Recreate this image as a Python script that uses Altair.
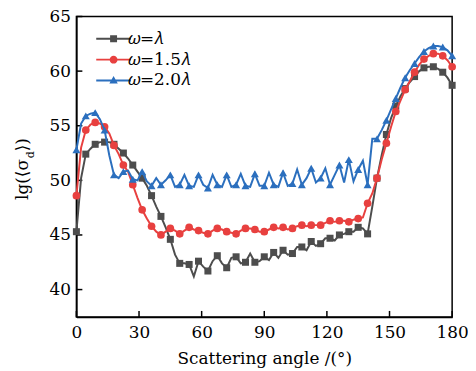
import altair as alt
import pandas as pd

# ---------------- data ----------------
ANGLE_STEP = 2.25  # degrees between samples
GRAY = [45.3, 50.2, 52.4, 52.9, 53.3, 53.5, 53.5, 53.5, 53.3, 52.9,
        52.5, 52.0, 51.4, 50.8, 50.2, 49.5, 48.6, 47.6, 46.7, 45.7,
        44.6, 43.2, 42.4, 42.4, 42.3, 41.2, 42.6, 42.1, 41.7, 42.6,
        43.1, 42.4, 42.0, 42.9, 43.0, 42.4, 42.5, 43.3, 42.5, 42.6,
        43.0, 42.7, 43.4, 42.9, 43.6, 43.2, 43.3, 43.9, 43.9, 43.6,
        44.4, 44.0, 44.2, 44.7, 44.7, 44.5, 45.0, 45.1, 45.3, 45.3,
        45.7, 45.6, 45.1, 47.6, 50.2, 52.3, 54.2, 55.7, 56.8, 57.7,
        58.4, 59.0, 59.5, 60.0, 60.3, 60.4, 60.4, 60.2, 59.9, 59.4,
        58.7]
RED = [48.6, 53.0, 54.6, 55.1, 55.3, 55.2, 54.9, 54.3, 53.2, 52.4,
       51.4, 50.8, 49.6, 48.4, 47.3, 46.5, 45.8, 45.3, 45.0, 45.3,
       45.6, 45.4, 45.1, 45.4, 45.7, 45.5, 45.4, 45.2, 45.1, 45.4,
       45.6, 45.5, 45.3, 45.2, 45.1, 45.4, 45.6, 45.6, 45.5, 45.3,
       45.3, 45.5, 45.7, 45.6, 45.7, 45.5, 45.6, 45.8, 45.9, 45.8,
       45.9, 45.9, 45.9, 46.1, 46.3, 46.2, 46.3, 46.3, 46.2, 46.4,
       46.5, 46.6, 47.9, 48.8, 50.2, 51.9, 53.4, 54.9, 56.3, 57.3,
       58.3, 59.1, 59.9, 60.6, 61.1, 61.4, 61.6, 61.6, 61.4, 61.0,
       60.4]
BLUE = [52.8, 55.2, 55.9, 56.1, 56.2, 55.6, 54.6, 52.3, 50.5, 50.2,
        50.8, 50.9, 50.1, 50.0, 50.8, 49.9, 49.5, 50.2, 49.6, 50.0,
        50.5, 49.4, 49.6, 50.5, 49.5, 49.4, 50.5, 49.6, 49.3, 50.5,
        49.6, 49.4, 50.5, 49.4, 49.6, 50.6, 49.5, 49.4, 50.6, 49.5,
        49.5, 50.7, 49.6, 49.4, 50.7, 49.5, 49.7, 51.0, 49.6, 50.2,
        51.1, 49.8, 50.2, 51.1, 49.6, 50.5, 51.4, 49.8, 51.9, 49.9,
        51.0, 51.8, 49.6, 53.8, 53.8, 54.6, 55.5, 56.5, 57.5, 58.5,
        59.4, 60.1, 60.7, 61.3, 61.8, 62.1, 62.3, 62.3, 62.2, 61.9,
        61.4]

LABELS = ["\U0001D714=\U0001D706", "\U0001D714=1.5\U0001D706", "\U0001D714=2.0\U0001D706"]
SERIES_VALUES = [GRAY, RED, BLUE]
COLORS = ["#4d4d4d", "#e8403f", "#2b6fbe"]
SHAPES = ["square", "circle", "triangle-up"]
MARK_SIZES = [50, 60, 65]
X_TICKS = [0, 30, 60, 90, 120, 150, 180]
Y_TICKS = [40, 45, 50, 55, 60, 65]
X_TITLE = "Scattering angle /(°)"
Y_TITLE_PARTS = ["lg(⟨σ", "d", "⟩)"]

# legend glyphs: a line segment with the marker in the middle
LEG_PATHS = [
    "M-3.5,-0.2H3.5V0.2H-3.5Z M-0.7,-0.7H0.7V0.7H-0.7Z",
    "M-3.5,-0.2H3.5V0.2H-3.5Z M0.8,0A0.8,0.8 0 1,1 -0.8,0A0.8,0.8 0 1,1 0.8,0Z",
    "M-3.5,-0.2H3.5V0.2H-3.5Z M0,-0.9L0.85,0.6H-0.85Z",
]

rows = []
for name, vals in zip(LABELS, SERIES_VALUES):
    for i, v in enumerate(vals):
        rows.append({"angle": i * ANGLE_STEP, "value": v, "series": name, "idx": i})
df = pd.DataFrame(rows)

W, H = 379, 303
FONT = "DejaVu Serif"

xscale = alt.Scale(domain=[0, 180], nice=False)
yscale = alt.Scale(domain=[37.5, 65], nice=False, zero=False)
xaxis = alt.Axis(values=X_TICKS, title=X_TITLE, ticks=False, grid=False,
                 labelPadding=8, titlePadding=10, format="d", labelFlush=False)
yaxis = alt.Axis(values=Y_TICKS, title=None, ticks=False, grid=False,
                 labelPadding=6, format="d", labelFlush=False)
X = alt.X("angle:Q", scale=xscale, axis=xaxis)
Y = alt.Y("value:Q", scale=yscale, axis=yaxis)

layers = []

# inward tick marks
xt = pd.DataFrame({"angle": X_TICKS})
layers.append(alt.Chart(xt).mark_rule(color="black", strokeWidth=1.5).encode(
    x=X, y=alt.value(H), y2=alt.value(H - 6)))
yt = pd.DataFrame({"value": Y_TICKS})
layers.append(alt.Chart(yt).mark_rule(color="black", strokeWidth=1.5).encode(
    y=Y, x=alt.value(0), x2=alt.value(6)))

for name, color, shape, msize in zip(LABELS, COLORS, SHAPES, MARK_SIZES):
    base = alt.Chart(df).transform_filter(alt.datum.series == name)
    layers.append(base.mark_line(color=color, strokeWidth=2).encode(x=X, y=Y))
    layers.append(base.transform_filter("datum.idx % 2 == 0").mark_point(
        shape=shape, filled=True, size=msize, color=color, opacity=1).encode(x=X, y=Y))

# legend (built from the series names)
legdf = pd.DataFrame({"series": LABELS})
leg = alt.Legend(title=None, orient="top-left", offset=14, padding=0,
                 symbolOffset=15,
                 labelFont=FONT, labelFontSize=17, labelColor="black",
                 symbolSize=100, symbolStrokeWidth=0, symbolOpacity=1,
                 labelOffset=6, rowPadding=3)
layers.append(alt.Chart(legdf).mark_point(filled=True, opacity=0, size=100).encode(
    x=alt.value(0), y=alt.value(0),
    color=alt.Color("series:N", scale=alt.Scale(domain=LABELS, range=COLORS), legend=leg),
    shape=alt.Shape("series:N", scale=alt.Scale(domain=LABELS, range=LEG_PATHS), legend=leg),
))

# y-axis title with subscript d
tdf = pd.DataFrame({"k": [0]})
layers.append(alt.Chart(tdf).mark_text(angle=270, align="left", baseline="middle",
                                        font=FONT, fontSize=17, color="black").encode(
    x=alt.value(-54), y=alt.value(185), text=alt.value(Y_TITLE_PARTS[0])))
layers.append(alt.Chart(tdf).mark_text(angle=270, align="left", baseline="middle",
                                        font=FONT, fontSize=11, color="black").encode(
    x=alt.value(-46), y=alt.value(143), text=alt.value(Y_TITLE_PARTS[1])))
layers.append(alt.Chart(tdf).mark_text(angle=270, align="left", baseline="middle",
                                        font=FONT, fontSize=17, color="black").encode(
    x=alt.value(-54), y=alt.value(136), text=alt.value(Y_TITLE_PARTS[2])))

chart = alt.layer(*layers).properties(
    width=W, height=H,
    autosize=alt.AutoSizeParams(type="none"),
    padding={"left": 69, "top": 7, "right": 16, "bottom": 52},
).configure_view(stroke="black", strokeWidth=1.5).configure_axis(
    domainColor="black", domainWidth=1.5,
    labelFont=FONT, labelFontSize=17, labelColor="black",
    titleFont=FONT, titleFontSize=17, titleFontWeight="normal", titleColor="black",
)

chart.save("out.html", embed_options={"renderer": "svg", "actions": False})
